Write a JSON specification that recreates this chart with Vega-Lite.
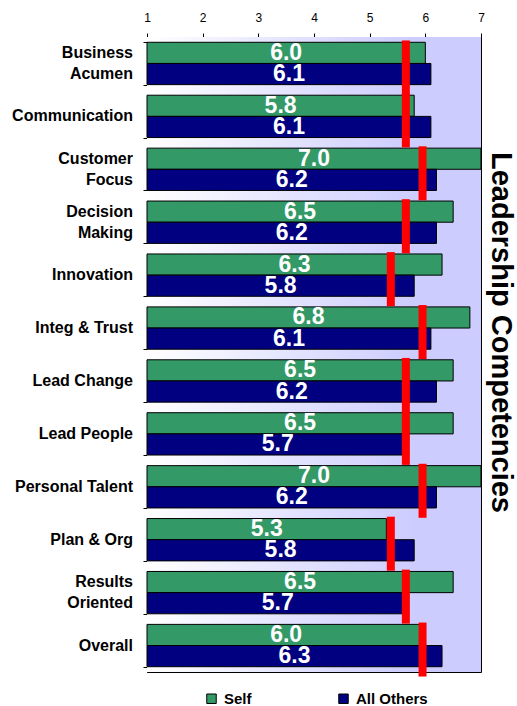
{
  "$schema": "https://vega.github.io/schema/vega-lite/v6.json",
  "autosize": {"type": "none"},
  "padding": {"left": 147, "top": 37, "right": 36, "bottom": 34},
  "width": 334,
  "height": 635,
  "background": "white",
  "config": {
    "font": "Liberation Sans",
    "view": {"stroke": "black", "strokeWidth": 1}
  },
  "title": {
    "text": "Leadership Competencies",
    "orient": "right",
    "anchor": "middle",
    "fontSize": 29,
    "fontWeight": "bold",
    "color": "black",
    "font": "Liberation Sans",
    "offset": 2,
    "dx": -22
  },
  "datasets": {
    "scores": [
      {"competency": "Business|Acumen", "series": "Self", "value": 6.0},
      {"competency": "Business|Acumen", "series": "All Others", "value": 6.1},
      {"competency": "Communication", "series": "Self", "value": 5.8},
      {"competency": "Communication", "series": "All Others", "value": 6.1},
      {"competency": "Customer|Focus", "series": "Self", "value": 7.0},
      {"competency": "Customer|Focus", "series": "All Others", "value": 6.2},
      {"competency": "Decision|Making", "series": "Self", "value": 6.5},
      {"competency": "Decision|Making", "series": "All Others", "value": 6.2},
      {"competency": "Innovation", "series": "Self", "value": 6.3},
      {"competency": "Innovation", "series": "All Others", "value": 5.8},
      {"competency": "Integ & Trust", "series": "Self", "value": 6.8},
      {"competency": "Integ & Trust", "series": "All Others", "value": 6.1},
      {"competency": "Lead Change", "series": "Self", "value": 6.5},
      {"competency": "Lead Change", "series": "All Others", "value": 6.2},
      {"competency": "Lead People", "series": "Self", "value": 6.5},
      {"competency": "Lead People", "series": "All Others", "value": 5.7},
      {"competency": "Personal Talent", "series": "Self", "value": 7.0},
      {"competency": "Personal Talent", "series": "All Others", "value": 6.2},
      {"competency": "Plan & Org", "series": "Self", "value": 5.3},
      {"competency": "Plan & Org", "series": "All Others", "value": 5.8},
      {"competency": "Results|Oriented", "series": "Self", "value": 6.5},
      {"competency": "Results|Oriented", "series": "All Others", "value": 5.7},
      {"competency": "Overall", "series": "Self", "value": 6.0},
      {"competency": "Overall", "series": "All Others", "value": 6.3}
    ],
    "norms": [
      {"competency": "Business|Acumen", "lines": 2, "norm": 5.65},
      {"competency": "Communication", "lines": 1, "norm": 5.65},
      {"competency": "Customer|Focus", "lines": 2, "norm": 5.95},
      {"competency": "Decision|Making", "lines": 2, "norm": 5.65},
      {"competency": "Innovation", "lines": 1, "norm": 5.38},
      {"competency": "Integ & Trust", "lines": 1, "norm": 5.95},
      {"competency": "Lead Change", "lines": 1, "norm": 5.65},
      {"competency": "Lead People", "lines": 1, "norm": 5.65},
      {"competency": "Personal Talent", "lines": 1, "norm": 5.95},
      {"competency": "Plan & Org", "lines": 1, "norm": 5.38},
      {"competency": "Results|Oriented", "lines": 2, "norm": 5.65},
      {"competency": "Overall", "lines": 1, "norm": 5.95}
    ]
  },
  "layer": [
    {
      "data": {"values": [{}]},
      "mark": {
        "type": "rect",
        "color": {
          "gradient": "linear",
          "x1": 0, "x2": 1, "y1": 0, "y2": 0,
          "stops": [
            {"offset": 0, "color": "#ffffff"},
            {"offset": 0.8, "color": "#ccccff"},
            {"offset": 1, "color": "#ccccff"}
          ]
        }
      },
      "encoding": {
        "x": {"datum": 1, "type": "quantitative", "scale": {"domain": [1, 7]}},
        "x2": {"datum": 7}
      }
    },
    {
      "data": {"name": "scores"},
      "mark": {"type": "bar", "stroke": "black", "strokeWidth": 1},
      "encoding": {
        "y": {
          "field": "competency",
          "type": "nominal",
          "sort": ["Business|Acumen", "Communication", "Customer|Focus", "Decision|Making", "Innovation", "Integ & Trust", "Lead Change", "Lead People", "Personal Talent", "Plan & Org", "Results|Oriented", "Overall"],
          "scale": {"paddingInner": 0.2, "paddingOuter": 0.1},
          "axis": {
            "title": null,
            "labels": false,
            "tickBand": "extent",
            "tickSize": 4,
            "tickColor": "black",
            "domainColor": "black"
          }
        },
        "yOffset": {"field": "series", "type": "nominal", "sort": ["Self", "All Others"], "scale": {"paddingInner": 0, "paddingOuter": 0}},
        "x": {
          "field": "value",
          "type": "quantitative",
          "scale": {"domain": [1, 7], "zero": false, "nice": false},
          "axis": {
            "orient": "top",
            "values": [1, 2, 3, 4, 5, 6, 7],
            "format": "d",
            "grid": false,
            "title": null,
            "labelFontSize": 12,
            "labelFont": "Liberation Sans",
            "labelColor": "black",
            "labelPadding": 9,
            "labelFlush": false,
            "tickColor": "black",
            "tickSize": 4,
            "domainColor": "black"
          }
        },
        "x2": {"datum": 1},
        "color": {
          "field": "series",
          "type": "nominal",
          "scale": {"domain": ["Self", "All Others"], "range": ["#339966", "#000080"]},
          "legend": {
            "orient": "none",
            "legendX": 57,
            "legendY": 654,
            "direction": "horizontal",
            "title": null,
            "padding": 0,
            "symbolType": "square",
            "symbolSize": 90,
            "symbolStrokeColor": "black",
            "symbolStrokeWidth": 1,
            "symbolOpacity": 1,
            "labelFontSize": 15,
            "labelFontWeight": "bold",
            "labelFont": "Liberation Sans",
            "labelColor": "black",
            "labelOffset": 5,
            "columnPadding": 84
          }
        }
      }
    },
    {
      "data": {"name": "scores"},
      "transform": [{"calculate": "(datum.value + 1) / 2", "as": "mid"}],
      "mark": {"type": "text", "color": "white", "fontWeight": "bold", "fontSize": 23, "font": "Liberation Sans", "align": "center", "baseline": "middle"},
      "encoding": {
        "y": {"field": "competency", "type": "nominal", "sort": ["Business|Acumen", "Communication", "Customer|Focus", "Decision|Making", "Innovation", "Integ & Trust", "Lead Change", "Lead People", "Personal Talent", "Plan & Org", "Results|Oriented", "Overall"]},
        "yOffset": {"field": "series", "type": "nominal", "sort": ["Self", "All Others"]},
        "x": {"field": "mid", "type": "quantitative"},
        "text": {"field": "value", "type": "quantitative", "format": ".1f"}
      }
    },
    {
      "data": {"name": "norms"},
      "mark": {"type": "tick", "color": "#ff0000", "thickness": 8, "size": 54, "opacity": 1, "orient": "vertical", "yOffset": 4},
      "encoding": {
        "y": {"field": "competency", "type": "nominal", "sort": ["Business|Acumen", "Communication", "Customer|Focus", "Decision|Making", "Innovation", "Integ & Trust", "Lead Change", "Lead People", "Personal Talent", "Plan & Org", "Results|Oriented", "Overall"]},
        "x": {"field": "norm", "type": "quantitative"}
      }
    },
    {
      "data": {"name": "norms"},
      "transform": [{"filter": "datum.lines == 1"}],
      "mark": {"type": "text", "color": "black", "fontWeight": "bold", "fontSize": 16, "font": "Liberation Sans", "align": "right", "baseline": "middle", "dx": -14},
      "encoding": {
        "y": {"field": "competency", "type": "nominal", "sort": ["Business|Acumen", "Communication", "Customer|Focus", "Decision|Making", "Innovation", "Integ & Trust", "Lead Change", "Lead People", "Personal Talent", "Plan & Org", "Results|Oriented", "Overall"]},
        "x": {"datum": 1, "type": "quantitative"},
        "text": {"field": "competency", "type": "nominal"}
      }
    },
    {
      "data": {"name": "norms"},
      "transform": [{"filter": "datum.lines == 2"}],
      "mark": {"type": "text", "color": "black", "fontWeight": "bold", "fontSize": 16, "font": "Liberation Sans", "align": "right", "baseline": "middle", "dx": -14, "dy": -10.5, "lineBreak": "|", "lineHeight": 21},
      "encoding": {
        "y": {"field": "competency", "type": "nominal", "sort": ["Business|Acumen", "Communication", "Customer|Focus", "Decision|Making", "Innovation", "Integ & Trust", "Lead Change", "Lead People", "Personal Talent", "Plan & Org", "Results|Oriented", "Overall"]},
        "x": {"datum": 1, "type": "quantitative"},
        "text": {"field": "competency", "type": "nominal"}
      }
    }
  ]
}
